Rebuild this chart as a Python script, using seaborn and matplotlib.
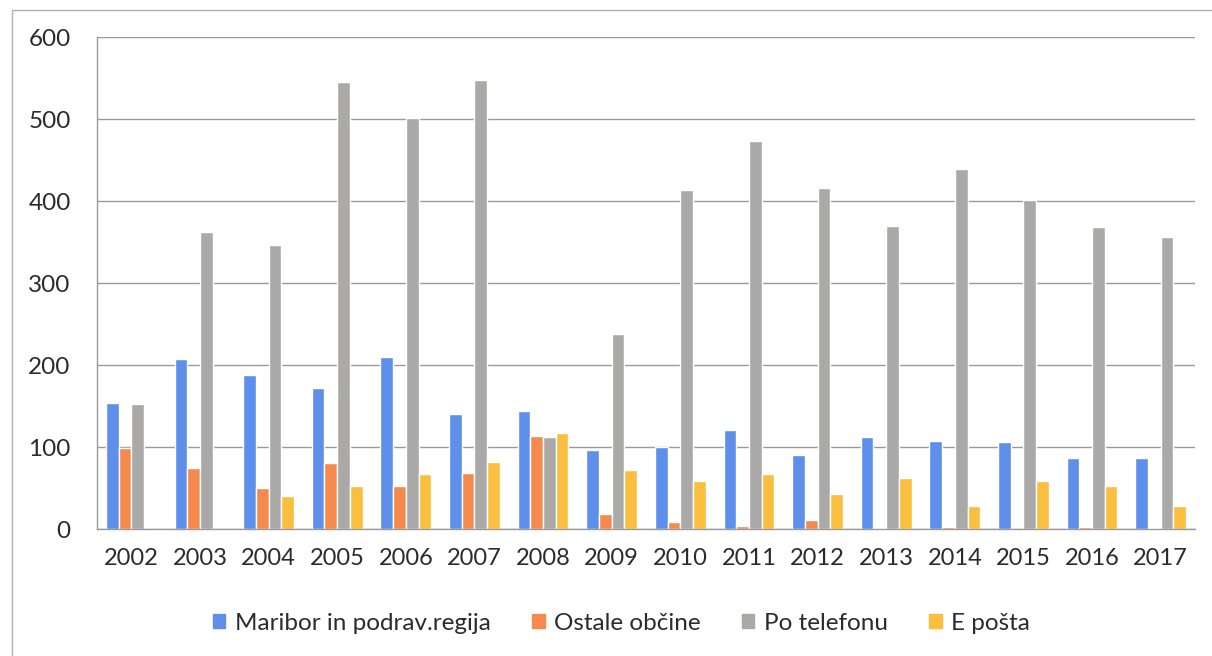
import numpy as np
import pandas as pd
import seaborn as sns
from matplotlib import pyplot as plt
from matplotlib.patches import Rectangle

# Data
years = ['2002', '2003', '2004', '2005', '2006', '2007', '2008', '2009',
         '2010', '2011', '2012', '2013', '2014', '2015', '2016', '2017']
maribor = [154, 207, 188, 172, 210, 140, 144, 96, 100, 121, 90, 112, 107, 106, 86, 86]
ostale = [99, 74, 50, 80, 52, 68, 113, 18, 8, 4, 11, 1, 3, 0, 2, 1]
telefon = [152, 362, 346, 545, 501, 548, 112, 238, 414, 473, 416, 370, 439, 401, 368, 356]
eposta = [0, 0, 40, 52, 67, 82, 117, 72, 58, 67, 43, 62, 28, 59, 52, 28]

series = ['Maribor in podrav.regija', 'Ostale občine', 'Po telefonu', 'E pošta']
colors = ['#5E8FEA', '#F58A4C', '#ABA8A8', '#FBBF3F']

df = pd.DataFrame({'Leto': years * 4,
                   'Vrednost': maribor + ostale + telefon + eposta,
                   'Serija': [s for s in series for _ in years]})

sns.set_style('white')
plt.rcParams['font.family'] = ['Lato', 'DejaVu Sans']

fig = plt.figure(figsize=(12.12, 6.56), dpi=100)
ax = fig.add_axes([97 / 1212, 1 - 529 / 656, 1098 / 1212, 492 / 656])

sns.barplot(data=df, x='Leto', y='Vrednost', hue='Serija', palette=colors,
            width=0.74, saturation=1, ax=ax, legend=False)

ax.set_ylim(0, 600)
ax.set_xlim(-0.5, 15.5)
ax.set_yticks(range(0, 601, 100))
ax.yaxis.grid(True, color='#9a9a9a', linewidth=1)
ax.set_axisbelow(True)
ax.set_xlabel('')
ax.set_ylabel('')

for s in ['top', 'right']:
    ax.spines[s].set_visible(False)
for s in ['left', 'bottom']:
    ax.spines[s].set_color('#9a9a9a')
    ax.spines[s].set_linewidth(1)

ax.tick_params(axis='y', length=10, color='#9a9a9a', labelsize=17.5, pad=9, labelcolor='#2b2b2b')
ax.tick_params(axis='x', which='major', length=0, labelsize=17, pad=14, labelcolor='#2b2b2b')
ax.set_xticks(np.arange(-0.5, 16, 1), minor=True)
ax.tick_params(axis='x', which='minor', length=10, color='#9a9a9a')

handles = [Rectangle((0, 0), 1, 1, color=c) for c in colors]
leg = fig.legend(handles, series, loc='center', bbox_to_anchor=(0.513, 1 - 623 / 656),
                 ncol=4, frameon=False, fontsize=17.5, handlelength=0.5, handleheight=0.5,
                 handletextpad=0.4, columnspacing=1.7)
for t in leg.get_texts():
    t.set_color('#2b2b2b')

# chart border
fig.patches.append(Rectangle((12 / 1212, -0.05), 1.2, 1 - 10 / 656 + 0.05,
                             transform=fig.transFigure, fill=False,
                             edgecolor='#b0b0b0', linewidth=1))

fig.savefig('out.png', dpi=100)
